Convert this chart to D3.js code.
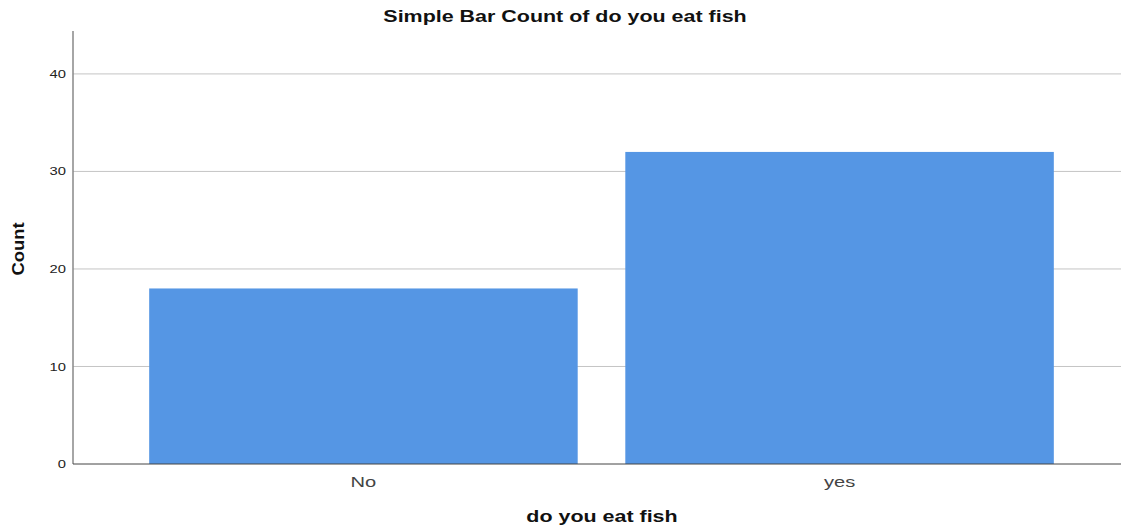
<!DOCTYPE html>
<html><head><meta charset="utf-8">
<script src="https://cdn.jsdelivr.net/npm/d3@7"></script>
<style>body{margin:0;background:#fff}svg{display:block}</style>
</head><body>
<script>
const categories = ["No", "yes"];
const counts = [18, 32];
const yTicks = [0, 10, 20, 30, 40];

(function () {
const W = 1121, H = 531;
const mLeft = 73, mBottom = 464, mTop = 31;
const STRETCH = 1.34;
const svg = d3.select("body").append("svg").attr("width", W).attr("height", H)
  .style("font-family", "'Liberation Sans', Arial, sans-serif");

function widen(sel, k) {
  sel.each(function () {
    const len = this.getComputedTextLength();
    d3.select(this).attr("textLength", len * k).attr("lengthAdjust", "spacingAndGlyphs");
  });
}

const y = d3.scaleLinear().domain([0, 44.4]).range([mBottom, mTop]);
const x = d3.scaleBand().domain(categories).range([mLeft, 1130]).paddingInner(0.1).paddingOuter(0.16);

// gridlines
svg.append("g").selectAll("line").data(yTicks.filter(d => d > 0)).join("line")
  .attr("x1", mLeft).attr("x2", W).attr("y1", d => y(d)).attr("y2", d => y(d))
  .attr("stroke", "#c4c4c4").attr("stroke-width", 1);

// bars
svg.append("g").selectAll("rect").data(categories).join("rect")
  .attr("x", d => x(d)).attr("width", x.bandwidth())
  .attr("y", (d, i) => y(counts[i])).attr("height", (d, i) => y(0) - y(counts[i]))
  .attr("fill", "#5596e4");

// y axis
const ya = svg.append("g").attr("transform", `translate(${mLeft},0)`)
  .call(d3.axisLeft(y).tickValues(yTicks).tickSize(0).tickPadding(7));
ya.select(".domain").remove();
ya.selectAll("text").attr("font-size", 11).attr("fill", "#222").attr("font-family", "'Liberation Sans', Arial, sans-serif");
widen(ya.selectAll("text"), STRETCH);
svg.append("line").attr("x1", mLeft).attr("x2", mLeft).attr("y1", mTop).attr("y2", mBottom)
  .attr("stroke", "#888").attr("stroke-width", 1.5);

// x axis
const xa = svg.append("g").attr("transform", `translate(0,${mBottom})`)
  .call(d3.axisBottom(x).tickSize(0).tickPadding(12));
xa.select(".domain").remove();
xa.selectAll("text").attr("font-size", 15).attr("fill", "#444").attr("font-family", "'Liberation Sans', Arial, sans-serif");
widen(xa.selectAll("text"), STRETCH);
svg.append("line").attr("x1", mLeft).attr("x2", W).attr("y1", mBottom).attr("y2", mBottom)
  .attr("stroke", "#444").attr("stroke-width", 1);

// titles
const t = svg.append("text").attr("x", 565).attr("y", 22).attr("text-anchor", "middle")
  .attr("font-size", 16).attr("font-weight", "bold").attr("fill", "#111")
  .text("Simple Bar Count of do you eat fish");
widen(t, STRETCH);
const xl = svg.append("text").attr("x", 602).attr("y", 522).attr("text-anchor", "middle")
  .attr("font-size", 16).attr("font-weight", "bold").attr("fill", "#111")
  .text("do you eat fish");
widen(xl, STRETCH);
const yl = svg.append("text").attr("transform", "translate(24,249) rotate(-90)").attr("text-anchor", "middle")
  .attr("font-size", 16).attr("font-weight", "bold").attr("fill", "#111")
  .text("Count");
widen(yl, 1.15);
})();
</script>
</body></html>
